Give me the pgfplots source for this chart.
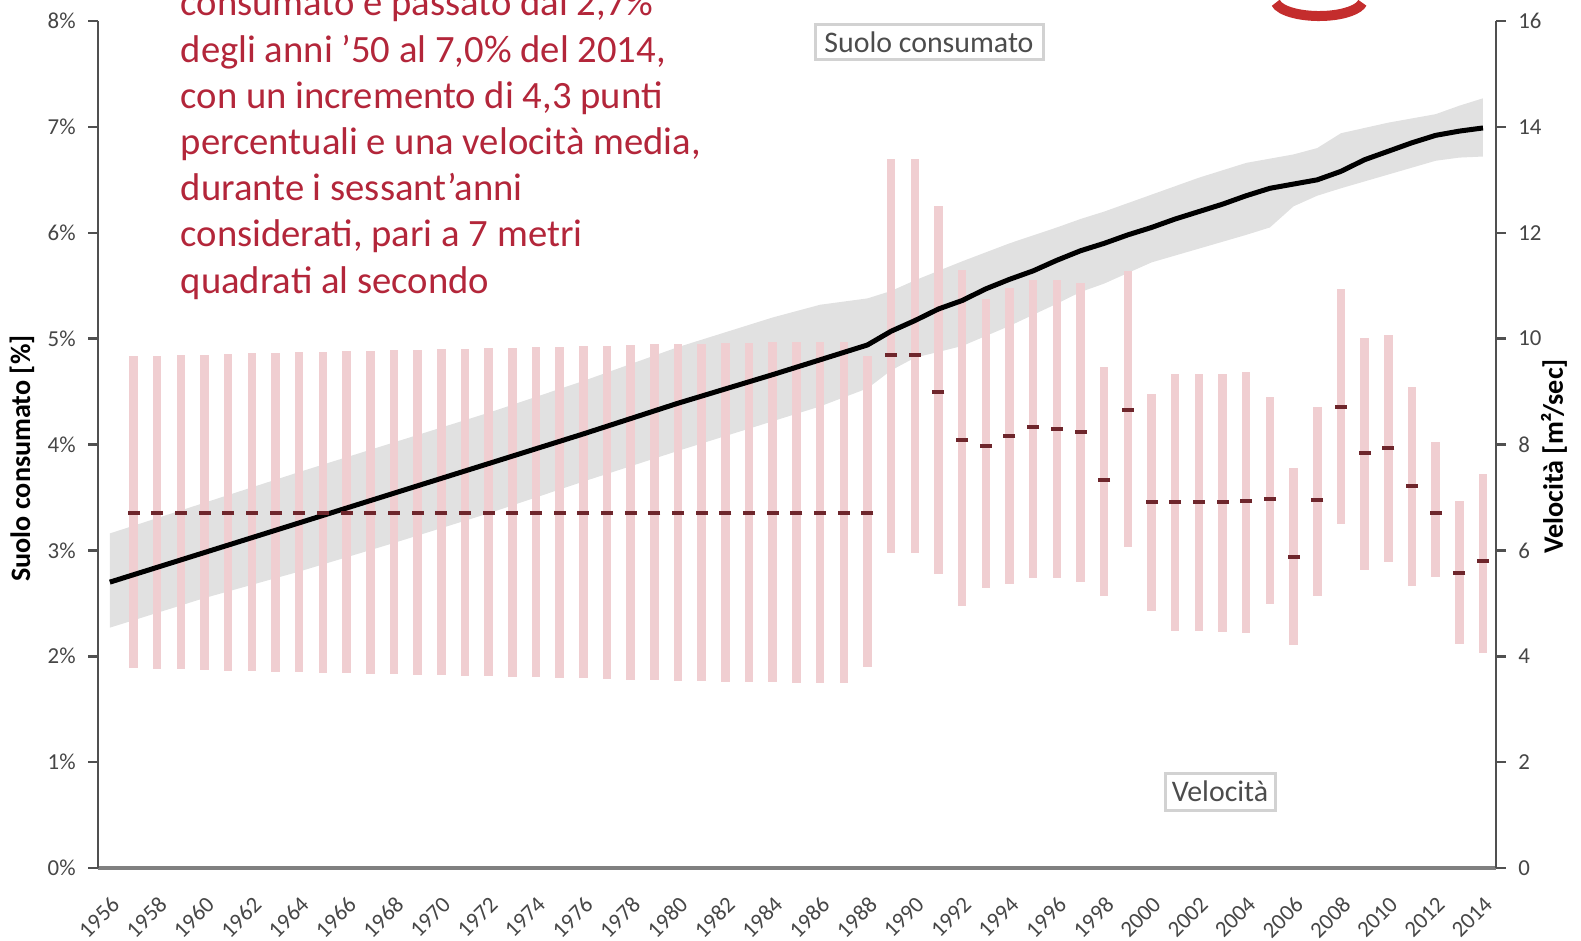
\documentclass[border=0pt]{standalone}
\usepackage{fontspec}
\setmainfont{Carlito}
\usepackage{pgfplots}
\pgfplotsset{compat=1.18}
\usepgfplotslibrary{fillbetween}
\usepackage{pgfplotstable}

\definecolor{barpink}{RGB}{240,206,209}
\definecolor{dashred}{RGB}{110,38,44}
\definecolor{notered}{RGB}{179,38,58}
\definecolor{bandgrey}{RGB}{200,200,200}
\definecolor{axgrey}{RGB}{80,80,80}
\definecolor{lblgrey}{RGB}{70,70,70}
\definecolor{logored}{RGB}{196,45,45}

% velocita' (m2/sec): media, minimo, massimo
\pgfplotstableread{
year mean low high
1957 6.70 3.77 9.68
1958 6.70 3.76 9.68
1959 6.70 3.75 9.69
1960 6.70 3.74 9.70
1961 6.70 3.73 9.71
1962 6.70 3.72 9.72
1963 6.70 3.71 9.73
1964 6.70 3.70 9.74
1965 6.70 3.69 9.75
1966 6.70 3.68 9.76
1967 6.70 3.67 9.77
1968 6.70 3.66 9.78
1969 6.70 3.65 9.79
1970 6.70 3.64 9.80
1971 6.70 3.63 9.81
1972 6.70 3.62 9.82
1973 6.70 3.61 9.83
1974 6.70 3.60 9.84
1975 6.70 3.59 9.85
1976 6.70 3.58 9.86
1977 6.70 3.57 9.87
1978 6.70 3.56 9.88
1979 6.70 3.55 9.89
1980 6.70 3.54 9.90
1981 6.70 3.53 9.90
1982 6.70 3.52 9.91
1983 6.70 3.51 9.92
1984 6.70 3.51 9.93
1985 6.70 3.50 9.93
1986 6.70 3.49 9.94
1987 6.70 3.49 9.94
1988 6.70 3.80 9.68
1989 9.70 5.95 13.40
1990 9.70 5.95 13.40
1991 9.00 5.55 12.50
1992 8.08 4.95 11.30
1993 7.98 5.28 10.75
1994 8.17 5.37 10.95
1995 8.34 5.47 11.10
1996 8.30 5.47 11.10
1997 8.23 5.40 11.05
1998 7.33 5.14 9.47
1999 8.65 6.06 11.28
2000 6.91 4.86 8.95
2001 6.91 4.48 9.33
2002 6.91 4.48 9.33
2003 6.91 4.45 9.33
2004 6.93 4.44 9.37
2005 6.97 4.99 8.90
2006 5.88 4.21 7.55
2007 6.96 5.14 8.71
2008 8.71 6.49 10.94
2009 7.83 5.62 10.02
2010 7.93 5.78 10.06
2011 7.22 5.33 9.08
2012 6.70 5.49 8.05
2013 5.58 4.23 6.93
2014 5.79 4.06 7.45
}\veltab

% suolo consumato (%): fascia
\pgfplotstableread{
year lo up
1956 2.27 3.16
1960 2.55 3.45
1964 2.80 3.74
1968 3.07 4.02
1972 3.35 4.30
1976 3.65 4.60
1980 3.94 4.92
1984 4.22 5.20
1986 4.36 5.32
1988 4.53 5.38
1989 4.70 5.45
1990 4.82 5.55
1992 4.93 5.73
1994 5.12 5.90
1996 5.33 6.05
1997 5.44 6.13
1998 5.52 6.20
2000 5.72 6.36
2002 5.85 6.52
2004 5.98 6.66
2005 6.05 6.70
2006 6.25 6.74
2007 6.35 6.80
2008 6.42 6.94
2010 6.55 7.04
2012 6.68 7.12
2013 6.71 7.20
2014 6.72 7.27
}\bandtab

% suolo consumato (%): stima
\pgfplotstableread{
year pct
1956 2.70
1960 2.98
1964 3.26
1968 3.54
1972 3.82
1976 4.10
1980 4.39
1984 4.66
1986 4.80
1988 4.94
1989 5.07
1990 5.17
1991 5.28
1992 5.36
1993 5.47
1994 5.56
1995 5.64
1996 5.74
1997 5.83
1998 5.90
1999 5.98
2000 6.05
2001 6.13
2002 6.20
2003 6.27
2004 6.35
2005 6.42
2006 6.46
2007 6.50
2008 6.58
2009 6.69
2010 6.77
2011 6.85
2012 6.92
2013 6.96
2014 6.99
}\linetab

\pgfplotsset{
  base/.style={scale only axis, width=139.8mm, height=84.7mm,
    at={(9.8mm,7.2mm)}, anchor=south west,
    xmin=1955.5, xmax=2014.55,
    /pgf/number format/assume math mode=true,
    tick label style={font=\fontsize{6.5}{7}\selectfont, text=lblgrey},
    axis line style={-, axgrey, line width=0.28mm},
    major tick length=1mm, tick align=outside,
    tick style={axgrey, line width=0.25mm},
    label style={font=\bfseries\fontsize{8}{9}\selectfont, text=black}},
}

\begin{document}
\begin{tikzpicture}

% velocita': barre
\begin{axis}[base, ymin=0, ymax=16, axis y line*=right, axis x line=none,
  ytick={0,2,...,16}, ylabel={Velocità [m²/sec]},
  ylabel style={at={(rel axis cs:1,0.5)}, anchor=center, yshift=-5.8mm, xshift=-1.2mm}]
\addplot[draw=none, mark=none, error bars/.cd, y dir=both, y explicit, error mark=none,
  error bar style={draw=barpink, line width=0.85mm}]
  table[x=year, y=mean, y error plus expr=\thisrow{high}-\thisrow{mean},
        y error minus expr=\thisrow{mean}-\thisrow{low}] {\veltab};
\end{axis}

% suolo consumato
\begin{axis}[base, ymin=0, ymax=8, axis x line*=bottom, axis y line*=left,
  ytick={0,...,8}, yticklabel={\pgfmathprintnumber{\tick}\%},
  xtick={1956,1958,...,2014},
  x tick label style={rotate=45, anchor=north east, /pgf/number format/1000 sep={}},
  xtick style={draw=none},
  x axis line style={line width=0.45mm, gray},
  ylabel={Suolo consumato [\%]},
  ylabel style={at={(rel axis cs:0,0.5)}, anchor=center, yshift=7.6mm, xshift=-1.4mm}]
\addplot[name path=up, draw=none] table[x=year, y=up] {\bandtab};
\addplot[name path=lo, draw=none] table[x=year, y=lo] {\bandtab};
\addplot[bandgrey, fill opacity=0.55, draw=none] fill between[of=up and lo];
\addplot[black, line width=0.5mm, line join=round] table[x=year, y=pct] {\linetab};
\end{axis}

% velocita': media
\begin{axis}[base, ymin=0, ymax=16, hide axis]
\addplot[only marks, mark=-, mark size=0.6mm, mark options={dashred, line width=0.4mm}]
  table[x=year, y=mean] {\veltab};
\end{axis}

\foreach \t [count=\i from 0] in {{consumato è passato dal 2,7\%},
  {degli anni ’50 al 7,0\% del 2014,}, {con un incremento di 4,3 punti},
  {percentuali e una velocità media,}, {durante i sessant’anni},
  {considerati, pari a 7 metri}, {quadrati al secondo}}
  \node[anchor=base west, inner sep=0, font=\fontsize{11}{13}\selectfont, text=notered]
    at (18mm, 92.4mm-\i*4.62mm) {\t};

\node[draw=gray!35, line width=0.3mm, minimum width=22.8mm, minimum height=3.5mm, inner sep=0,
  font=\fontsize{8.5}{10}\selectfont, text=black!70] at (92.9mm,89.75mm) {Suolo consumato};
\node[draw=gray!35, line width=0.3mm, minimum width=11mm, minimum height=3.7mm, inner sep=0,
  font=\fontsize{8.5}{10}\selectfont, text=black!70] at (122mm,14.85mm) {Velocità};

% logo tagliato in alto a destra
\draw[logored, line width=1mm] (127.57mm,93.72mm) arc[start angle=190, end angle=350, x radius=4.4mm, y radius=1.6mm];

\pgfresetboundingbox
\useasboundingbox (0,0) rectangle (158.1mm,94mm);
\end{tikzpicture}
\end{document}
